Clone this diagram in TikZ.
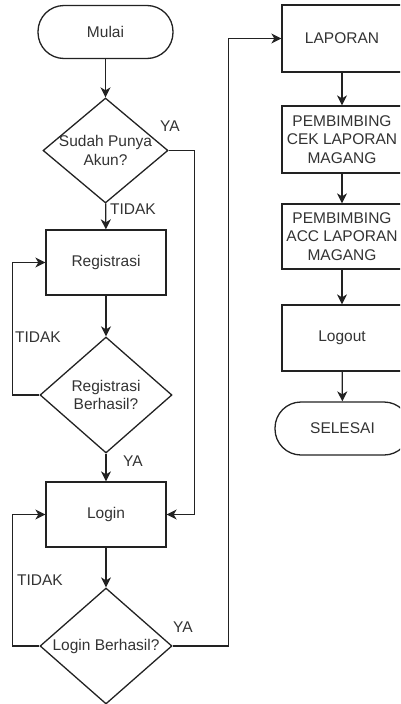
\documentclass[tikz,border=0pt]{standalone}
\usepackage{fontspec}
\setmainfont{Liberation Sans}
\usetikzlibrary{shapes.geometric,arrows.meta}
\definecolor{ln}{HTML}{222222}
\definecolor{tx}{HTML}{333333}
\begin{document}
\begin{tikzpicture}[x=1pt,y=-1pt,
  every node/.style={font=\fontsize{15.5}{18.6}\selectfont, text=tx},
  box/.style={draw=ln, line width=1.3pt, rectangle, minimum width=120pt, minimum height=66pt, inner sep=0pt, align=center},
  term/.style={draw=ln, line width=1.3pt, rectangle, rounded corners=26pt, minimum width=135pt, minimum height=53pt, inner sep=0pt},
  dec/.style={draw=ln, line width=1.3pt, diamond, inner sep=0pt},
  conn/.style={draw=ln, line width=1.3pt, -{Stealth[length=10pt,width=10pt,inset=3pt]}},
  lbl/.style={inner sep=0pt}
]
\clip (0,0) rectangle (400,704);
\useasboundingbox (0,0) rectangle (400,704);

% left column
\node[term] (mulai) at (105.5,32) {Mulai};
\node[dec, minimum width=125pt, minimum height=105pt,
      label={[align=center,inner sep=0pt]center:Sudah Punya\\Akun?}] (d1) at (105.5,150.5) {};
\node[box, minimum height=65pt] (reg) at (106,262.5) {Registrasi};
\node[dec, minimum width=132pt, minimum height=116pt,
      label={[align=center,inner sep=0pt]center:Registrasi\\Berhasil?}] (d2) at (106,395) {};
\node[box, minimum height=65pt] (login) at (106,514.5) {Login};
\node[dec, minimum width=132pt, minimum height=116pt,
      label={[align=center,inner sep=0pt]center:Login Berhasil?}] (d3) at (106,646) {};

% right column
\node[box, minimum height=67pt] (lap) at (342,38.5) {LAPORAN};
\node[box, minimum height=67pt] (cek) at (342,139.5) {PEMBIMBING\\CEK LAPORAN\\MAGANG};
\node[box, minimum height=65pt] (acc) at (342,236.5) {PEMBIMBING\\ACC LAPORAN\\MAGANG};
\node[box, minimum height=66pt] (logout) at (342,338) {Logout};
\node[term] (selesai) at (342.5,428.5) {SELESAI};

% connectors
\draw[conn] (mulai) -- (d1);
\draw[conn] (d1) -- (reg);
\draw[conn] (reg) -- (d2);
\draw[conn] (d2) -- (login);
\draw[conn] (login) -- (d3);
\draw[conn] (d1.east) -- ++(26,0) |- (login.east);
\draw[conn] (d2.west) -- ++(-27,0) |- (reg.west);
\draw[conn] (d3.west) -- ++(-27,0) |- (login.west);
\draw[conn] (d3.east) -- ++(56,0) |- (lap.west);
\draw[conn] (lap) -- (cek);
\draw[conn] (cek) -- (acc);
\draw[conn] (acc) -- (logout);
\draw[conn] (logout) -- (selesai);

% labels
\node[lbl] (ya1) at (170,126) {YA};
\node[lbl] (tidak1) at (133,209) {TIDAK};
\node[lbl] (tidak2) at (38,337) {TIDAK};
\node[lbl] (ya2) at (133,461) {YA};
\node[lbl] (tidak3) at (40,580) {TIDAK};
\node[lbl] (ya3) at (183,627) {YA};
\end{tikzpicture}
\end{document}
